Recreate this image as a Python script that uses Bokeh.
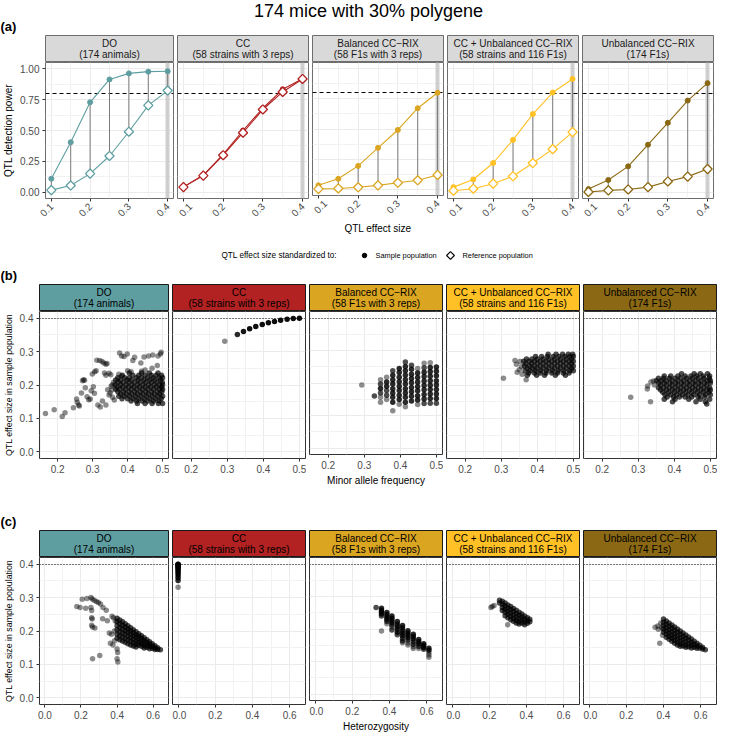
import math
from bokeh.plotting import figure
from bokeh.models import Range1d, FixedTicker, PrintfTickFormatter
from bokeh.layouts import row, column
from bokeh.core.properties import value
from bokeh.embed import file_html
from bokeh.resources import INLINE

FONT = "Liberation Sans"

# ------------------------------------------------------------------ data
title_text = "174 mice with 30% polygene"
populations = ["DO", "CC", "Balanced CC\u2212RIX", "CC + Unbalanced CC\u2212RIX", "Unbalanced CC\u2212RIX"]
pop_details = ["(174 animals)", "(58 strains with 3 reps)", "(58 F1s with 3 reps)",
               "(58 strains and 116 F1s)", "(174 F1s)"]
pop_colors = ["#5F9EA0", "#B22222", "#DAA520", "#FFC125", "#8B6914"]

# (a) power curves
effect_sizes = [0.10, 0.15, 0.20, 0.25, 0.30, 0.35, 0.40]
do_sample = [0.110, 0.405, 0.728, 0.913, 0.962, 0.976, 0.979]
do_reference = [0.018, 0.055, 0.151, 0.294, 0.490, 0.703, 0.823]
cc_sample = [0.044, 0.140, 0.307, 0.500, 0.680, 0.833, 0.918]
cc_reference = [0.042, 0.135, 0.300, 0.482, 0.670, 0.812, 0.917]
bal_sample = [0.034, 0.088, 0.195, 0.344, 0.492, 0.672, 0.800]
bal_reference = [0.005, 0.008, 0.018, 0.034, 0.055, 0.076, 0.120]
ccu_sample = [0.042, 0.104, 0.237, 0.424, 0.633, 0.807, 0.917]
ccu_reference = [0.013, 0.029, 0.070, 0.130, 0.237, 0.349, 0.487]
unb_sample = [0.026, 0.100, 0.210, 0.385, 0.562, 0.742, 0.883]
unb_reference = [0.003, 0.016, 0.023, 0.042, 0.088, 0.127, 0.188]

# (b)/(c) CC loci: minor allele frequency, heterozygosity, effect size, number of loci
cc_maf = [0.293, 0.328, 0.345, 0.362, 0.379, 0.397, 0.414, 0.431, 0.448, 0.466, 0.483, 0.500]
cc_het = [0.0] * 12
cc_effect = [0.331, 0.351, 0.360, 0.368, 0.375, 0.381, 0.386, 0.390, 0.394, 0.397, 0.399, 0.400]
cc_count = [1, 3, 4, 5, 5, 5, 5, 5, 5, 5, 5, 5]

# loci per point in the dense clouds vs. isolated loci
cloud_count = 2
single_count = 1

# (b) DO: scattered loci (maf, effect) and dense cloud rows (effect, [maf...])
do_maf_sparse = [
    (0.165, 0.115), (0.190, 0.126), (0.213, 0.106), (0.221, 0.117), (0.245, 0.132), (0.254, 0.158),
    (0.256, 0.148), (0.260, 0.140), (0.262, 0.137), (0.268, 0.176), (0.271, 0.213), (0.274, 0.216),
    (0.277, 0.214), (0.279, 0.192), (0.284, 0.165), (0.289, 0.156), (0.293, 0.158), (0.296, 0.183),
    (0.299, 0.233), (0.306, 0.240), (0.310, 0.243), (0.302, 0.195), (0.305, 0.175), (0.312, 0.274),
    (0.320, 0.273), (0.327, 0.270), (0.332, 0.266), (0.338, 0.262), (0.341, 0.264), (0.334, 0.236),
    (0.338, 0.229), (0.315, 0.140), (0.322, 0.134), (0.328, 0.152), (0.338, 0.140), (0.343, 0.186),
    (0.347, 0.170), (0.350, 0.176), (0.353, 0.196), (0.356, 0.200), (0.357, 0.163), (0.360, 0.208),
    (0.355, 0.185), (0.362, 0.155), (0.377, 0.296), (0.390, 0.285), (0.399, 0.293), (0.415, 0.273),
    (0.420, 0.283), (0.438, 0.266), (0.447, 0.284), (0.460, 0.287), (0.472, 0.290), (0.487, 0.287),
    (0.494, 0.293), (0.496, 0.298), (0.383, 0.287), (0.375, 0.232), (0.382, 0.226), (0.400, 0.243),
    (0.410, 0.240), (0.440, 0.241), (0.470, 0.250), (0.485, 0.258), (0.450, 0.245), (0.347, 0.235),
    (0.352, 0.231),
]
do_maf_rows = [
    (0.236, [0.405, 0.440, 0.462, 0.487]),
    (0.229, [0.385, 0.415, 0.432, 0.450, 0.468, 0.482, 0.497]),
    (0.222, [0.372, 0.392, 0.405, 0.425, 0.440, 0.457, 0.473, 0.490, 0.500]),
    (0.215, [0.366, 0.380, 0.398, 0.412, 0.430, 0.447, 0.463, 0.478, 0.494]),
    (0.208, [0.373, 0.388, 0.404, 0.420, 0.436, 0.452, 0.468, 0.484, 0.499]),
    (0.201, [0.364, 0.380, 0.396, 0.412, 0.428, 0.444, 0.460, 0.476, 0.491, 0.500]),
    (0.194, [0.370, 0.386, 0.402, 0.418, 0.434, 0.450, 0.466, 0.482, 0.497]),
    (0.187, [0.366, 0.378, 0.394, 0.410, 0.426, 0.442, 0.458, 0.474, 0.490, 0.500]),
    (0.180, [0.372, 0.388, 0.404, 0.420, 0.436, 0.452, 0.468, 0.484, 0.498]),
    (0.173, [0.380, 0.396, 0.412, 0.428, 0.444, 0.460, 0.476, 0.492]),
    (0.166, [0.375, 0.390, 0.406, 0.422, 0.438, 0.454, 0.470, 0.486, 0.500]),
    (0.159, [0.384, 0.400, 0.416, 0.432, 0.448, 0.464, 0.480, 0.496]),
    (0.152, [0.410, 0.426, 0.442, 0.458, 0.474, 0.490]),
    (0.145, [0.428, 0.450, 0.470, 0.488, 0.500]),
]

# (b) Balanced CC-RIX: columns (maf, [(effect, loci count)...])
bal_maf_cols = [
    (0.293, [(0.194, 1)]),
    (0.328, [(0.160, 2)]),
    (0.345, [(0.210, 1), (0.197, 2), (0.183, 3), (0.169, 2), (0.156, 1), (0.141, 1)]),
    (0.362, [(0.218, 1), (0.203, 3), (0.190, 3), (0.177, 2), (0.162, 2), (0.149, 1)]),
    (0.379, [(0.238, 2), (0.224, 3), (0.210, 3), (0.197, 3), (0.182, 3), (0.169, 3), (0.156, 3),
             (0.141, 3), (0.115, 1)]),
    (0.397, [(0.245, 3), (0.232, 3), (0.218, 3), (0.204, 3), (0.190, 3), (0.177, 3), (0.162, 3),
             (0.149, 3), (0.135, 1)]),
    (0.414, [(0.265, 2), (0.251, 3), (0.238, 3), (0.224, 3), (0.210, 3), (0.197, 3), (0.182, 3),
             (0.169, 3), (0.156, 3), (0.141, 3), (0.127, 1)]),
    (0.431, [(0.255, 2), (0.242, 3), (0.227, 3), (0.214, 3), (0.201, 3), (0.186, 3), (0.173, 3),
             (0.159, 3), (0.145, 3)]),
    (0.448, [(0.245, 1), (0.231, 3), (0.217, 3), (0.203, 3), (0.189, 3), (0.176, 3), (0.161, 3),
             (0.148, 3), (0.134, 1)]),
    (0.466, [(0.261, 1), (0.247, 2), (0.233, 3), (0.220, 3), (0.206, 3), (0.192, 3), (0.179, 3),
             (0.165, 3), (0.151, 3), (0.137, 2)]),
    (0.483, [(0.262, 1), (0.248, 3), (0.235, 3), (0.221, 3), (0.207, 3), (0.193, 3), (0.180, 3),
             (0.166, 3), (0.152, 3), (0.138, 2)]),
    (0.500, [(0.249, 3), (0.236, 3), (0.222, 3), (0.207, 3), (0.194, 3), (0.180, 3), (0.166, 3),
             (0.152, 3), (0.138, 2)]),
]

# (b) CC + Unbalanced CC-RIX
ccu_maf_sparse = [(0.306, 0.220), (0.338, 0.273), (0.342, 0.262), (0.344, 0.238), (0.350, 0.246),
                  (0.352, 0.270), (0.356, 0.255), (0.358, 0.232), (0.369, 0.216)]
ccu_maf_rows = [
    (0.292, [0.430, 0.452, 0.470, 0.486, 0.498]),
    (0.285, [0.395, 0.412, 0.428, 0.444, 0.460, 0.476, 0.490, 0.500]),
    (0.278, [0.370, 0.385, 0.400, 0.416, 0.432, 0.448, 0.464, 0.480, 0.495]),
    (0.271, [0.362, 0.377, 0.392, 0.408, 0.424, 0.440, 0.456, 0.472, 0.488, 0.500]),
    (0.264, [0.368, 0.384, 0.400, 0.416, 0.432, 0.448, 0.464, 0.480, 0.495]),
    (0.257, [0.364, 0.378, 0.392, 0.408, 0.424, 0.440, 0.456, 0.472, 0.488, 0.500]),
    (0.250, [0.372, 0.386, 0.400, 0.416, 0.432, 0.448, 0.464, 0.480, 0.495]),
    (0.243, [0.366, 0.380, 0.395, 0.410, 0.426, 0.442, 0.458, 0.474, 0.490, 0.500]),
    (0.236, [0.376, 0.392, 0.408, 0.424, 0.440, 0.456, 0.472, 0.488]),
    (0.229, [0.372, 0.398, 0.420, 0.450, 0.478]),
]

# (b) Unbalanced CC-RIX
unb_maf_sparse = [(0.279, 0.163), (0.326, 0.197), (0.334, 0.150), (0.325, 0.188), (0.335, 0.209),
                  (0.342, 0.212), (0.345, 0.200)]
unb_maf_rows = [
    (0.234, [0.420, 0.455, 0.472, 0.492]),
    (0.227, [0.372, 0.390, 0.410, 0.430, 0.446, 0.462, 0.480, 0.498]),
    (0.220, [0.356, 0.370, 0.386, 0.402, 0.418, 0.434, 0.450, 0.466, 0.482, 0.497]),
    (0.213, [0.350, 0.364, 0.378, 0.394, 0.410, 0.426, 0.442, 0.458, 0.474, 0.490, 0.500]),
    (0.206, [0.357, 0.372, 0.388, 0.404, 0.420, 0.436, 0.452, 0.468, 0.484, 0.500]),
    (0.199, [0.362, 0.378, 0.394, 0.410, 0.426, 0.442, 0.458, 0.474, 0.490]),
    (0.192, [0.356, 0.370, 0.386, 0.402, 0.418, 0.434, 0.450, 0.466, 0.482, 0.498]),
    (0.185, [0.362, 0.378, 0.394, 0.410, 0.426, 0.442, 0.458, 0.474, 0.490, 0.500]),
    (0.178, [0.368, 0.384, 0.400, 0.416, 0.432, 0.448, 0.464, 0.480, 0.496]),
    (0.171, [0.374, 0.390, 0.406, 0.422, 0.438, 0.454, 0.470, 0.486, 0.500]),
    (0.164, [0.380, 0.398, 0.414, 0.430, 0.448, 0.466, 0.484]),
    (0.157, [0.372, 0.402, 0.440, 0.472, 0.498]),
    (0.150, [0.395, 0.460, 0.486]),
    (0.143, [0.490]),
]

# (c) DO: scattered loci (het, effect) and dense wedge columns (het, [effect...])
do_het_sparse = [
    (0.177, 0.273), (0.195, 0.270), (0.226, 0.268), (0.207, 0.295), (0.233, 0.297), (0.255, 0.300),
    (0.262, 0.296), (0.273, 0.292), (0.285, 0.288), (0.296, 0.285), (0.308, 0.281), (0.322, 0.270),
    (0.340, 0.262), (0.259, 0.261), (0.255, 0.270), (0.259, 0.240), (0.262, 0.236), (0.259, 0.217),
    (0.264, 0.212), (0.277, 0.209), (0.320, 0.237), (0.346, 0.231), (0.372, 0.244), (0.380, 0.240),
    (0.357, 0.194), (0.369, 0.190), (0.363, 0.163), (0.377, 0.158), (0.386, 0.171), (0.400, 0.146),
    (0.403, 0.136), (0.400, 0.117), (0.404, 0.107), (0.304, 0.127), (0.264, 0.117), (0.390, 0.230),
    (0.385, 0.200),
]
do_het_cols = [
    (0.400, [0.238, 0.228, 0.216, 0.204, 0.190, 0.178]),
    (0.415, [0.233, 0.222, 0.210, 0.198, 0.186, 0.174]),
    (0.430, [0.228, 0.217, 0.206, 0.194, 0.182, 0.170]),
    (0.445, [0.222, 0.212, 0.201, 0.190, 0.178, 0.166]),
    (0.460, [0.216, 0.206, 0.196, 0.185, 0.174, 0.162]),
    (0.475, [0.210, 0.200, 0.190, 0.180, 0.169, 0.158]),
    (0.490, [0.204, 0.195, 0.185, 0.175, 0.165, 0.155]),
    (0.505, [0.198, 0.189, 0.180, 0.170, 0.160, 0.152]),
    (0.520, [0.192, 0.184, 0.175, 0.166, 0.157]),
    (0.535, [0.186, 0.178, 0.170, 0.162, 0.154]),
    (0.550, [0.180, 0.172, 0.164, 0.156, 0.149]),
    (0.565, [0.174, 0.166, 0.158, 0.151]),
    (0.580, [0.168, 0.161, 0.154, 0.147]),
    (0.595, [0.162, 0.155, 0.148]),
    (0.610, [0.156, 0.150, 0.145]),
    (0.625, [0.150, 0.145]),
    (0.640, [0.144]),
]

# (c) Balanced CC-RIX: columns (het, [(effect, loci count)...])
bal_het_cols = [
    (0.328, [(0.266, 2)]),
    (0.357, [(0.264, 3), (0.258, 3), (0.252, 3), (0.246, 3), (0.240, 2), (0.194, 1)]),
    (0.386, [(0.251, 3), (0.244, 3), (0.237, 3), (0.230, 3), (0.223, 2), (0.216, 1)]),
    (0.413, [(0.240, 3), (0.233, 3), (0.226, 3), (0.219, 3), (0.212, 2), (0.206, 1), (0.197, 2)]),
    (0.442, [(0.223, 3), (0.215, 3), (0.207, 3), (0.199, 3), (0.190, 3), (0.182, 2)]),
    (0.470, [(0.211, 3), (0.203, 3), (0.195, 3), (0.187, 3), (0.179, 3), (0.171, 2), (0.163, 2),
             (0.158, 1)]),
    (0.499, [(0.195, 3), (0.188, 3), (0.181, 3), (0.174, 3), (0.166, 2), (0.158, 1), (0.151, 1)]),
    (0.528, [(0.184, 3), (0.177, 3), (0.169, 3), (0.161, 2), (0.153, 2), (0.146, 1), (0.140, 1)]),
    (0.557, [(0.168, 3), (0.161, 3), (0.154, 3), (0.146, 2), (0.140, 1)]),
    (0.584, [(0.155, 3), (0.149, 3), (0.143, 3), (0.138, 2)]),
    (0.612, [(0.141, 3), (0.135, 3), (0.127, 1), (0.120, 1), (0.113, 1)]),
]

# (c) CC + Unbalanced CC-RIX
ccu_het_sparse = [(0.209, 0.270), (0.216, 0.273), (0.226, 0.276), (0.299, 0.219)]
ccu_het_cols = [
    (0.255, [0.292, 0.284]),
    (0.270, [0.289, 0.280, 0.270, 0.261]),
    (0.285, [0.284, 0.275, 0.265, 0.256, 0.246]),
    (0.300, [0.278, 0.269, 0.259, 0.250, 0.240]),
    (0.315, [0.273, 0.264, 0.254, 0.244, 0.234]),
    (0.330, [0.267, 0.258, 0.248, 0.238, 0.229]),
    (0.345, [0.262, 0.252, 0.242, 0.232, 0.224]),
    (0.360, [0.256, 0.247, 0.237, 0.228, 0.221]),
    (0.375, [0.251, 0.242, 0.233, 0.224]),
    (0.390, [0.245, 0.236, 0.227, 0.219]),
    (0.405, [0.240, 0.231, 0.223]),
    (0.418, [0.235, 0.228]),
]

# (c) Unbalanced CC-RIX
unb_het_sparse = [(0.355, 0.211), (0.370, 0.215), (0.372, 0.205), (0.380, 0.163), (0.385, 0.224),
                  (0.390, 0.210), (0.395, 0.187)]
unb_het_cols = [
    (0.400, [0.236, 0.226, 0.216, 0.206, 0.196]),
    (0.415, [0.230, 0.220, 0.210, 0.200, 0.190, 0.181]),
    (0.430, [0.224, 0.214, 0.204, 0.194, 0.184, 0.175]),
    (0.445, [0.218, 0.208, 0.198, 0.188, 0.178, 0.169]),
    (0.460, [0.212, 0.202, 0.192, 0.182, 0.172, 0.163]),
    (0.475, [0.206, 0.196, 0.186, 0.176, 0.166, 0.158]),
    (0.490, [0.200, 0.190, 0.180, 0.170, 0.160, 0.154]),
    (0.505, [0.194, 0.184, 0.174, 0.164, 0.155]),
    (0.520, [0.188, 0.178, 0.168, 0.158, 0.151]),
    (0.535, [0.182, 0.172, 0.162, 0.153]),
    (0.550, [0.176, 0.166, 0.157, 0.149]),
    (0.565, [0.169, 0.160, 0.151]),
    (0.580, [0.163, 0.155, 0.148]),
    (0.595, [0.157, 0.149]),
    (0.610, [0.151, 0.146]),
    (0.625, [0.144]),
]

# axes / ticks
a_xticks, a_xminor = [0.1, 0.2, 0.3, 0.4], [0.15, 0.25, 0.35]
a_yticks, a_yminor = [0.0, 0.25, 0.5, 0.75, 1.0], [0.125, 0.375, 0.625, 0.875]
b_xticks, b_xminor = [0.2, 0.3, 0.4, 0.5], [0.15, 0.25, 0.35, 0.45]
c_xticks, c_xminor = [0.0, 0.2, 0.4, 0.6], [0.1, 0.3, 0.5]
bc_yticks, bc_yminor = [0.0, 0.1, 0.2, 0.3, 0.4], [0.05, 0.15, 0.25, 0.35]
power_threshold = 0.8
max_effect = 0.4


# ------------------------------------------------------------------ helpers
def flat_pairs(pts):
    return [p[0] for p in pts], [p[1] for p in pts]


def flat_rows(rows):
    xs, ys = [], []
    for y, xl in rows:
        for x in xl:
            xs.append(x)
            ys.append(y)
    return xs, ys


def flat_cols(cols):
    xs, ys = [], []
    for x, yl in cols:
        for y in yl:
            xs.append(x)
            ys.append(y)
    return xs, ys


def flat_counted(cols):
    xs, ys, ns = [], [], []
    for x, yl in cols:
        for y, n in yl:
            xs.append(x)
            ys.append(y)
            ns.append(n)
    return xs, ys, ns


def merged(sparse, cloud):
    return (sparse[0] + cloud[0], sparse[1] + cloud[1],
            [single_count] * len(sparse[0]) + [cloud_count] * len(cloud[0]))


def text_fig(w, h):
    p = figure(width=w, height=h, x_range=Range1d(0, w), y_range=Range1d(0, h),
               x_axis_location=None, y_axis_location=None, toolbar_location=None,
               output_backend="svg", min_border=0)
    p.grid.visible = False
    p.outline_line_color = None
    p.background_fill_color = "white"
    p.border_fill_color = "white"
    return p


def strip_fig(i, fw, left, name, detail, fill, border, tcolor):
    lb = left if i == 0 else 0
    p = figure(width=lb + fw + 1, height=28, x_range=Range1d(0, 1), y_range=Range1d(0, 1),
               x_axis_location=None, y_axis_location=None, toolbar_location=None,
               output_backend="svg", min_border_left=lb, min_border_right=1,
               min_border_top=1, min_border_bottom=0)
    p.grid.visible = False
    p.background_fill_color = fill
    p.border_fill_color = "white"
    p.outline_line_color = border
    p.outline_line_width = 1
    p.text(x=[0.5, 0.5], y=[0.70, 0.28], text=[name, detail], text_align="center",
           text_baseline="middle", text_font=value(FONT), text_font_size="10px",
           text_color=tcolor)
    return p


def panel_fig(i, fw, left, fh, bottom, xr, yr, xt, xm, yt, ym, xfmt, yfmt,
              ylabel, ylabel_size, xlabel, rotate, border):
    lb = left if i == 0 else 0
    p = figure(width=lb + fw + 1, height=fh + bottom, x_range=Range1d(*xr), y_range=Range1d(*yr),
               y_axis_location="left" if i == 0 else None, toolbar_location=None,
               output_backend="svg", min_border_left=lb, min_border_right=1,
               min_border_top=0, min_border_bottom=bottom)
    xtick = FixedTicker(ticks=xt, minor_ticks=xm)
    ytick = FixedTicker(ticks=yt, minor_ticks=ym)
    p.xaxis.ticker = xtick
    p.xgrid.ticker = xtick
    p.ygrid.ticker = ytick
    p.xaxis.formatter = PrintfTickFormatter(format=xfmt)
    if i == 0:
        p.yaxis.ticker = ytick
        p.yaxis.formatter = PrintfTickFormatter(format=yfmt)
        p.yaxis.axis_label = ylabel
    if xlabel:
        p.xaxis.axis_label = xlabel
    if rotate:
        p.xaxis.major_label_orientation = math.pi / 4
    p.grid.grid_line_color = "#EBEBEB"
    p.grid.grid_line_width = 1
    p.grid.minor_grid_line_color = "#F2F2F2"
    p.grid.minor_grid_line_width = 1
    p.background_fill_color = "white"
    p.border_fill_color = "white"
    p.outline_line_color = border
    p.outline_line_width = 1
    p.outline_line_alpha = 1
    for ax in p.axis:
        ax.axis_line_color = None
        ax.major_tick_line_color = "#333333"
        ax.major_tick_out = 3
        ax.major_tick_in = 0
        ax.minor_tick_line_color = None
        ax.major_label_text_font = FONT
        ax.major_label_text_font_size = "10px"
        ax.major_label_text_color = "#4D4D4D"
        ax.major_label_standoff = 2
        ax.axis_label_text_font = FONT
        ax.axis_label_text_font_size = "10px"
        ax.axis_label_text_font_style = "normal"
        ax.axis_label_text_color = "black"
        ax.axis_label_standoff = 3
    if i == 0:
        p.yaxis.axis_label_text_font_size = ylabel_size
    return p


# ------------------------------------------------------------------ layout sizes
W = 718
A_LEFT, A_FW, A_FH, A_BOTTOM = 42, 131, 136, 38
BC_LEFT, BC_FW, BC_FH, BC_BOTTOM = 35, 133, 147, 30

# header (title + (a))
head_a = text_fig(W, 34)
head_a.text(x=[368], y=[24], text=[title_text], text_align="center", text_baseline="middle",
            text_font=value(FONT), text_font_size="18px", text_color="black")
head_a.text(x=[0], y=[8], text=["(a)"], text_align="left", text_baseline="middle",
            text_font=value(FONT), text_font_size="13px", text_font_style="bold", text_color="black")

# row (a)
samples = [do_sample, cc_sample, bal_sample, ccu_sample, unb_sample]
references = [do_reference, cc_reference, bal_reference, ccu_reference, unb_reference]
cols_a = []
for i in range(5):
    s = strip_fig(i, A_FW, A_LEFT, populations[i], pop_details[i], "#D9D9D9", "#6E6E6E", "#1A1A1A")
    p = panel_fig(i, A_FW, A_LEFT, A_FH, A_BOTTOM, (0.085, 0.415), (-0.05, 1.05),
                  a_xticks, a_xminor, a_yticks, a_yminor, "%.1f", "%.2f",
                  "QTL detection power", "10px", "QTL effect size" if i == 2 else None, True, "#6E6E6E")
    col = pop_colors[i]
    p.vspan(x=[max_effect], line_color="#C8C8C8", line_width=4, line_alpha=0.85)
    p.hspan(y=[power_threshold], line_color="black", line_dash="4 3", line_width=1)
    p.segment(x0=effect_sizes, y0=references[i], x1=effect_sizes, y1=samples[i],
              line_color="#7A7A7A", line_width=1)
    p.line(effect_sizes, samples[i], line_color=col, line_width=1.1)
    p.line(effect_sizes, references[i], line_color=col, line_width=1.1)
    p.scatter(effect_sizes, samples[i], marker="circle", size=5, fill_color=col, line_color=col)
    p.scatter(effect_sizes, references[i], marker="square", angle=math.pi / 4, size=6.5,
              fill_color="white", line_color=col, line_width=1.3)
    cols_a.append(column(s, p))
row_a = row(*cols_a, spacing=3)

# legend
leg = text_fig(W, 31)
leg.text(x=[221], y=[12], text=["QTL effect size standardized to:"], text_align="left",
         text_baseline="middle", text_font=value(FONT), text_font_size="8.2px", text_color="black")
leg.scatter(x=[364], y=[12], marker="circle", size=4.5, fill_color="black", line_color="black")
leg.text(x=[375], y=[12], text=["Sample population"], text_align="left", text_baseline="middle",
         text_font=value(FONT), text_font_size="7.4px", text_color="black")
leg.scatter(x=[450], y=[12], marker="square", angle=math.pi / 4, size=5.5, fill_color="white",
            line_color="black", line_width=1.1)
leg.text(x=[462], y=[12], text=["Reference population"], text_align="left", text_baseline="middle",
         text_font=value(FONT), text_font_size="7.4px", text_color="black")

head_b = text_fig(W, 16)
head_b.text(x=[0], y=[8], text=["(b)"], text_align="left", text_baseline="middle",
            text_font=value(FONT), text_font_size="13px", text_font_style="bold", text_color="black")

head_c = text_fig(W, 41)
head_c.text(x=[0], y=[8], text=["(c)"], text_align="left", text_baseline="middle",
            text_font=value(FONT), text_font_size="13px", text_font_style="bold", text_color="black")

# scatter data per population
bal_b = flat_counted(bal_maf_cols)
bal_c = flat_counted(bal_het_cols)
maf_sets = [
    merged(flat_pairs(do_maf_sparse), flat_rows(do_maf_rows)),
    (cc_maf, cc_effect, cc_count),
    bal_b,
    merged(flat_pairs(ccu_maf_sparse), flat_rows(ccu_maf_rows)),
    merged(flat_pairs(unb_maf_sparse), flat_rows(unb_maf_rows)),
]
het_sets = [
    merged(flat_pairs(do_het_sparse), flat_cols(do_het_cols)),
    (cc_het, cc_effect, cc_count),
    bal_c,
    merged(flat_pairs(ccu_het_sparse), flat_cols(ccu_het_cols)),
    merged(flat_pairs(unb_het_sparse), flat_cols(unb_het_cols)),
]


def scatter_row(sets, xr, xt, xm, xlabel):
    cols = []
    for i in range(5):
        s = strip_fig(i, BC_FW, BC_LEFT, populations[i], pop_details[i], pop_colors[i], "#1A1A1A", "black")
        p = panel_fig(i, BC_FW, BC_LEFT, BC_FH, BC_BOTTOM, xr, (-0.02, 0.42), xt, xm,
                      bc_yticks, bc_yminor, "%.1f", "%.1f",
                      "QTL effect size in sample population", "8.8px",
                      xlabel if i == 2 else None, False, "#333333")
        p.hspan(y=[max_effect], line_color="black", line_dash="1 2", line_width=1)
        xs, ys, ns = sets[i]
        alphas = [1 - 0.55 ** n for n in ns]
        p.scatter(xs, ys, marker="circle", size=5.5, fill_color="black", fill_alpha=alphas,
                  line_color=None)
        cols.append(column(s, p))
    return row(*cols, spacing=3)


row_b = scatter_row(maf_sets, (0.148, 0.517), b_xticks, b_xminor, "Minor allele frequency")
row_c = scatter_row(het_sets, (-0.03, 0.685), c_xticks, c_xminor, "Heterozygosity")

layout = column(head_a, row_a, leg, head_b, row_b, head_c, row_c)

open("out.html", "w").write(file_html(layout, INLINE))
